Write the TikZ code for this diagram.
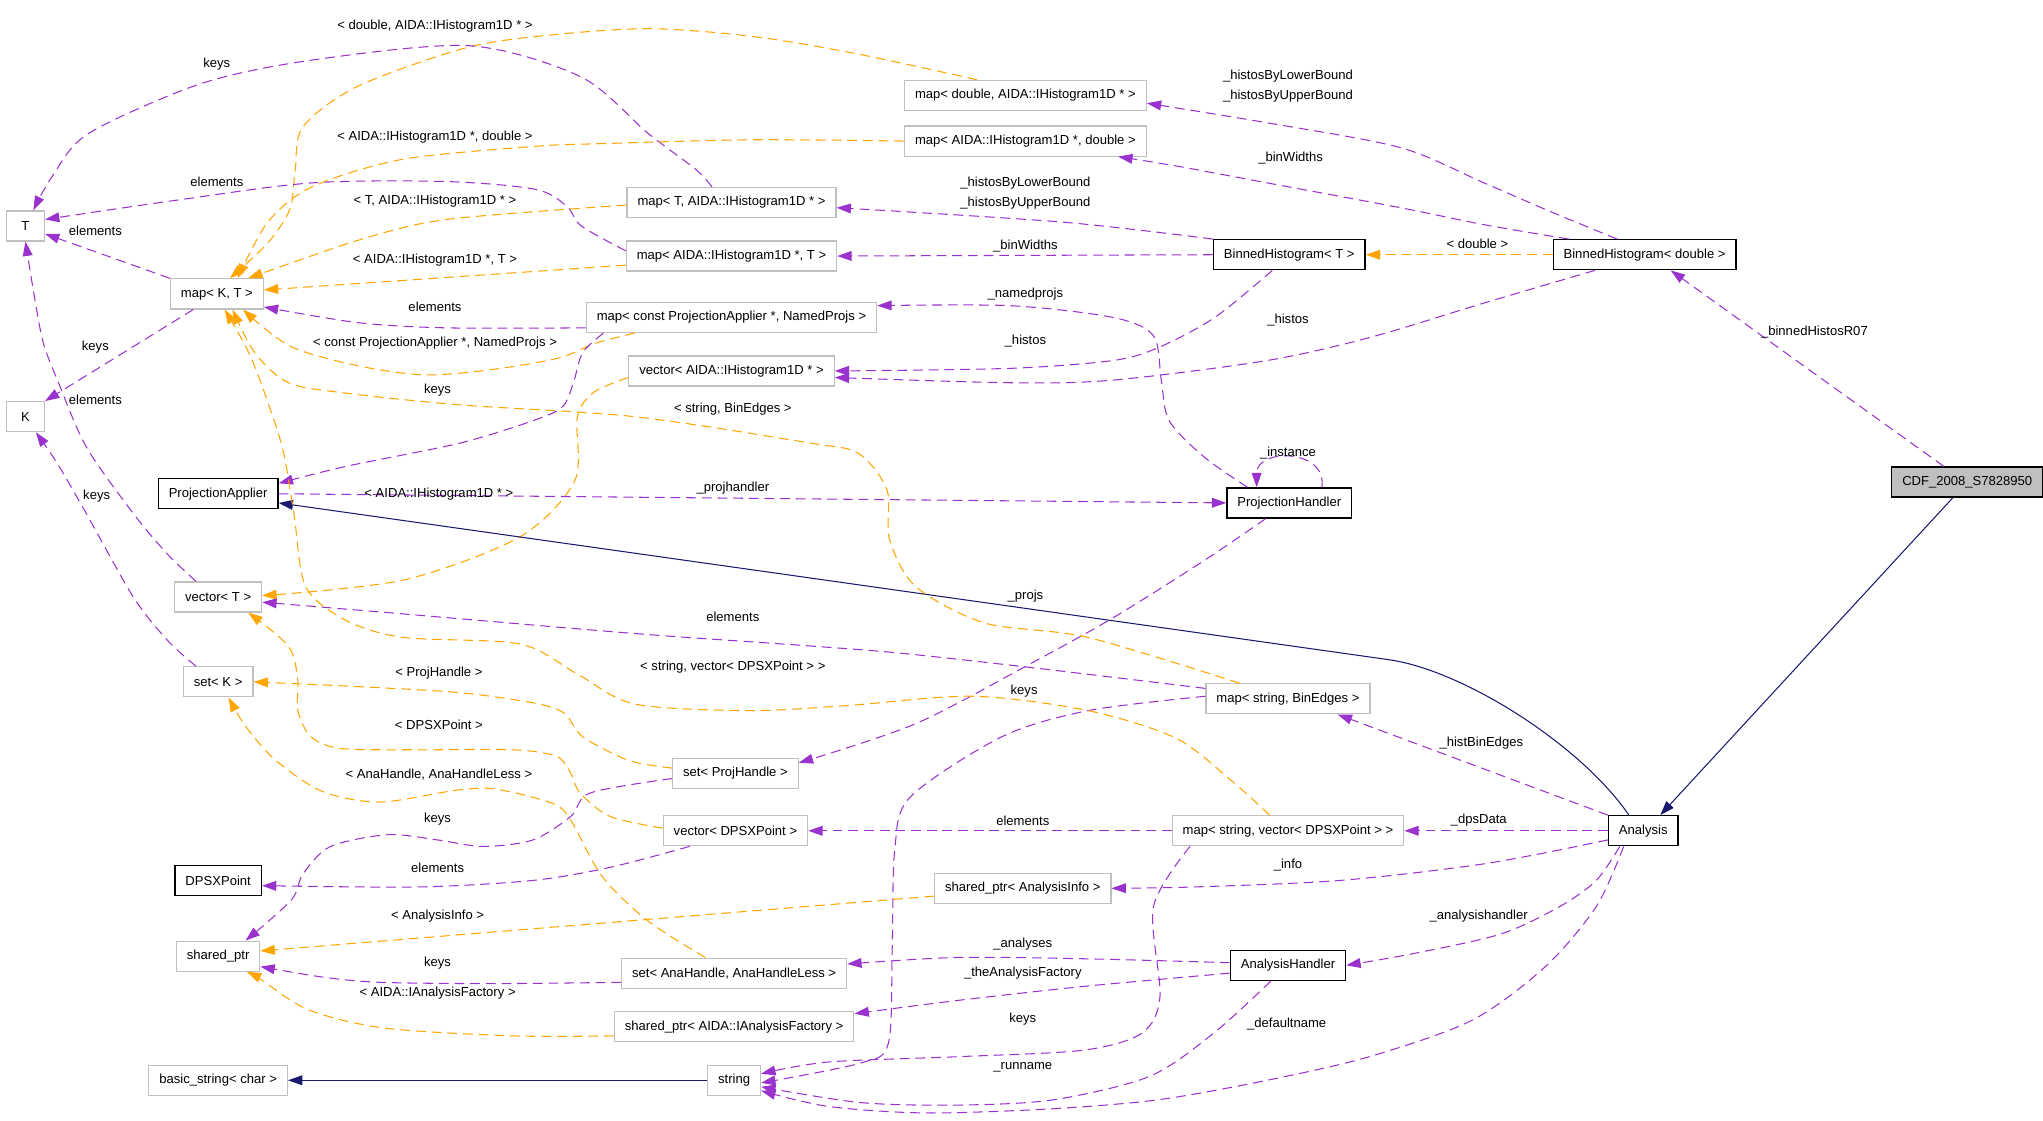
\documentclass[tikz,border=0pt]{standalone}
\usepackage{fontspec}
\setmainfont{Liberation Sans}
\usepackage{xcolor}
\usepackage{tikz}
\usetikzlibrary{arrows.meta}

\definecolor{usecol}{HTML}{9A32CD}
\definecolor{tplcol}{HTML}{FFA500}
\definecolor{inhcol}{HTML}{191970}
\definecolor{boxgray}{HTML}{BFBFBF}

\begin{document}
\begin{tikzpicture}[x=1pt, y=-1pt,
    cls/.style = {draw=boxgray, line width=0.9pt, fill=white, font=\fontsize{10}{12}\selectfont,
      inner xsep=8pt, inner ysep=0pt, minimum height=23pt, minimum width=29pt},
    doc/.style = {cls, draw=black, line width=1pt},
    lbl/.style = {font=\fontsize{10}{15}\selectfont, inner sep=1pt, align=center},
    usage/.style = {draw=usecol, line width=0.8pt, dash pattern=on 7.5pt off 4.5pt,
      -{Triangle[length=11pt, width=7.5pt]}},
    tmpl/.style = {usage, draw=tplcol},
    inher/.style = {draw=inhcol, line width=0.8pt, -{Triangle[length=11pt, width=7.5pt]}}]

      \useasboundingbox (0,0) rectangle (1564,858);

      \node[cls] (t) at (19.5,173) {T};
      \node[cls] (k) at (19.5,319) {K};
      \node[cls] (mkt) at (166,225) {map< K, T >};
      \node[doc] (pa) at (167,378) {ProjectionApplier};
      \node[cls] (vt) at (167,457) {vector< T >};
      \node[cls] (sk) at (167,522) {set< K >};
      \node[doc] (dpsx) at (167,674) {DPSXPoint};
      \node[cls] (sp) at (167,732) {shared\_ptr};
      \node[cls] (bs) at (167,827) {basic\_string< char >};

      \node[cls] (mta) at (560,155) {map< T, AIDA::IHistogram1D * >};
      \node[cls] (mat) at (560,196) {map< AIDA::IHistogram1D *, T >};
      \node[cls] (mcp) at (560,243) {map< const ProjectionApplier *, NamedProjs >};
      \node[cls] (va) at (560,284) {vector< AIDA::IHistogram1D * >};
      \node[cls] (sph) at (563,592) {set< ProjHandle >};
      \node[cls] (vd) at (563,636) {vector< DPSXPoint >};
      \node[cls] (sah) at (562,745) {set< AnaHandle, AnaHandleLess >};
      \node[cls] (spf) at (562,786) {shared\_ptr< AIDA::IAnalysisFactory >};
      \node[cls] (str) at (562,827) {string};

      \node[cls] (md) at (785,73) {map< double, AIDA::IHistogram1D * >};
      \node[cls] (mad) at (785,108) {map< AIDA::IHistogram1D *, double >};
      \node[cls] (spi) at (783,680) {shared\_ptr< AnalysisInfo >};

      \node[doc] (bht) at (987,195) {BinnedHistogram< T >};
      \node[doc] (ph) at (987,385) {ProjectionHandler};
      \node[cls] (msb) at (986,535) {map< string, BinEdges >};
      \node[cls] (msv) at (986,636) {map< string, vector< DPSXPoint > >};
      \node[doc] (ah) at (986,739) {AnalysisHandler};

      \node[doc] (bhd) at (1259,195) {BinnedHistogram< double >};
      \node[doc] (ana) at (1258,636) {Analysis};
      \node[doc, fill=boxgray] (cdf) at (1506,369) {CDF\_2008\_S7828950};

      \draw[tmpl] plot[smooth] coordinates {([xshift=-37pt]md.north) (655,41) (577,28) (500,22) (430,26) (359,36) (274,66) (232,97) (226,130) (222,160) (205,186) ([xshift=10pt]mkt.north)};
      \draw[usage] plot[smooth] coordinates {([xshift=-15pt]mta.north) (533,130) (496,102) (445,59) (359,35) (239,46) (154,64) (68,102) (40,135) ([xshift=6pt]t.north)};
      \draw[tmpl] plot[smooth] coordinates {(mad.west) (577,107) (459,110) (410,112) (308,122) (239,143) (205,170) ([xshift=16pt]mkt.north)};
      \draw[usage] plot[smooth] coordinates {([yshift=4pt]mat.west) (445,173) (434,158) (410,145) (342,139) (239,140) (137,153) ([yshift=5pt]t.east)};
      \draw[tmpl] plot[smooth] coordinates {([yshift=-2pt]mta.west) (342,168) (274,184) ([xshift=24pt]mkt.north)};
      \draw[tmpl] ([yshift=-7pt]mat.west) -- ([yshift=3pt]mkt.east);
      \draw[usage] (mkt.north west) -- ([yshift=-6pt]t.east);
      \draw[usage] ([xshift=-18pt]mkt.south) -- (k.north east);
      \draw[usage] plot[smooth] coordinates {([yshift=-8pt]mcp.west) (342,251) (274,247) ([yshift=-10pt]mkt.east)};
      \draw[tmpl] plot[smooth] coordinates {([xshift=-74pt]mcp.south) (455,263) (428,274) (376,283) (325,287) (274,280) (222,265) ([xshift=20pt]mkt.south)};
      \draw[usage] plot[smooth] coordinates {([xshift=-98pt]mcp.south) (446,270) (439,293) (431,311) (411,321) (353,339) (265,357) ([yshift=8pt]pa.east)};
      \draw[usage] plot[smooth] coordinates {([xshift=-17pt]vt.north) (128,424) (102,393) (66,342) (44,291) (33,262) (26,225) (t.south)};
      \draw[usage] plot[smooth] coordinates {([xshift=-17pt]sk.north) (128,490) (102,457) (66,393) (44,355) ([xshift=8pt]k.south)};
      \draw[tmpl] plot[smooth] coordinates {([yshift=-5pt]va.west) (455,300) (442,319) (440,368) (398,411) (309,444) ([yshift=1pt]vt.east)};

      \draw[usage] (pa.east) -- (ph.west);
      \draw[inher] ([xshift=-11pt]ana.north) .. controls (1210,570) and (1120,513) .. (1063,505) -- ([yshift=-7pt]pa.east);
      \draw[inher] ([xshift=-11pt]cdf.south) -- ([xshift=13pt]ana.north);
      \draw[inher] (str.west) -- (bs.east);

      \draw[usage] plot[smooth] coordinates {([xshift=-13pt]bht.south) (930,243) (887,266) (852,276) (773,282) (va.east)};
      \draw[usage] plot[smooth] coordinates {([xshift=-38pt]bhd.south) (1136,232) (1050,258) (970,276) (852,291) (773,293) ([yshift=-5pt]va.east)};
      \draw[usage] plot[smooth] coordinates {(bht.north west) (813,170) ([yshift=-4pt]mta.east)};
      \draw[usage] (bht.west) -- (mat.east);
      \draw[usage] plot[smooth] coordinates {([xshift=-21pt]bhd.north) (1187,162) (1136,140) (1072,113) (970,94) ([yshift=-6pt]md.east)};
      \draw[usage] plot[smooth] coordinates {([xshift=-58pt]bhd.north) (1136,172) (1072,159) (970,140) (900,127) ([xshift=71pt]mad.south)};
      \draw[tmpl] (bhd.west) -- (bht.east);
      \draw[usage] ([xshift=-18pt]cdf.north) -- ([xshift=20pt]bhd.south);

      \draw[usage] plot[smooth] coordinates {([xshift=-18pt]ph.south) (922,429) (852,473) (789,508) (701,554) ([yshift=8pt]sph.east)};
      \draw[usage] plot[smooth] coordinates {([xshift=-32pt]ph.north) (922,350) (895,322) (889,291) (883,257) (852,243) (773,234) ([yshift=9pt]mcp.east)};
      \draw[usage] ([xshift=25pt]ph.north) .. controls (1016,343) and (962,343) .. ([xshift=-25pt]ph.north);

      \draw[usage] plot[smooth] coordinates {([yshift=8pt]msb.west) (789,511) (689,500) (613,494) (486,485) (309,470) ([yshift=-4pt]vt.east)};
      \draw[tmpl] plot[smooth] coordinates {([xshift=-37pt]msb.north) (833,488) (754,477) (701,449) (681,413) (679,375) (657,347) (619,339) (486,319) (353,310) (265,301) (221,293) (195,270) ([xshift=12pt]mkt.south)};
      \draw[usage] (ana.north west) -- ([xshift=38pt]msb.south);
      \draw[usage] plot[smooth] coordinates {([yshift=2pt]msb.west) (833,544) (767,564) (697,610) (685,650) (683,727) (680,799) (658,814) ([yshift=-2pt]str.east)};

      \draw[tmpl] plot[smooth] coordinates {([xshift=-14pt]msv.north) (942,597) (900,565) (833,544) (745,533) (650,540) (574,544) (486,539) (442,516) (398,493) (309,488) (265,475) (234,449) (225,393) (216,342) (199,291) (188,265) ([xshift=6pt]mkt.south)};
      \draw[usage] (msv.west) -- (vd.east);
      \draw[usage] (ana.west) -- (msv.east);
      \draw[usage] plot[smooth] coordinates {([xshift=-75pt]msv.south) (883,694) (888,763) (874,791) (829,804) (732,809) (634,813) ([yshift=5pt]str.east)};

      \draw[tmpl] plot[smooth] coordinates {([yshift=4pt]sph.west) (481,582) (446,564) (432,546) (408,538) (349,530) (261,525) (sk.east)};
      \draw[tmpl] plot[smooth] coordinates {([yshift=2pt]vd.west) (467,625) (444,607) (437,592) (426,579) (393,574) (320,574) (261,573) (238,564) (228,544) (228,521) (221,495) ([xshift=23pt]vt.south)};
      \draw[tmpl] plot[smooth] coordinates {([xshift=-22pt]sah.north) (496,705) (461,671) (437,628) (423,615) (379,604) (349,605) (291,614) (247,606) (211,582) (188,556) ([xshift=8pt]sk.south)};
      \draw[usage] plot[smooth] coordinates {([yshift=-4pt]sph.west) (452,607) (437,625) (408,643) (370,648) (335,643) (297,639) (253,648) (232,669) (223,689) ([xshift=21pt]sp.north)};
      \draw[usage] plot[smooth] coordinates {([xshift=-35pt]vd.south) (467,664) (408,674) (320,679) ([yshift=-4pt]dpsx.east)};
      \draw[tmpl] ([yshift=-6pt]spi.west) -- ([yshift=4pt]sp.east);
      \draw[usage] plot[smooth] coordinates {([yshift=-7pt]sah.west) (379,753) (291,752) (247,748) ([yshift=-8pt]sp.east)};
      \draw[tmpl] plot[smooth] coordinates {([yshift=-7pt]spf.west) (393,793) (294,787) (236,773) (200,750) ([xshift=22pt]sp.south)};

      \draw[usage] plot[smooth] coordinates {([yshift=-7pt]ana.west) (1138,661) (1026,674) (914,679) (spi.east)};
      \draw[usage] plot[smooth] coordinates {([xshift=-18pt]ana.south) (1222,674) (1194,694) (1149,715) (1082,730) (ah.east)};
      \draw[usage] plot[smooth] coordinates {([yshift=2pt]ah.west) (831,734) (732,733) ([yshift=7pt]sah.east)};
      \draw[usage] plot[smooth] coordinates {([yshift=-6pt]ah.west) (831,755) (732,766) ([yshift=10pt]spf.east)};
      \draw[usage] plot[smooth] coordinates {([xshift=-13pt]ah.south) (929,791) (880,824) (806,842) (732,846) (658,844) ([yshift=-5pt]str.east)};
      \draw[usage] plot[smooth] coordinates {([xshift=-15pt]ana.south) (1222,694) (1183,740) (1127,781) (1048,809) (970,827) (886,842) (802,849) (708,852) (634,847) ([yshift=-8pt]str.east)};

      \node[lbl] (l1) at (333,20) {< double, AIDA::IHistogram1D * >};
      \node[lbl] (l2) at (166,49) {keys};
      \node[lbl] (l3) at (333,105) {< AIDA::IHistogram1D *, double >};
      \node[lbl] (l4) at (166,139) {elements};
      \node[lbl] (l5) at (333,154) {< T, AIDA::IHistogram1D * >};
      \node[lbl] (l6) at (73,177) {elements};
      \node[lbl] (l7) at (333,199) {< AIDA::IHistogram1D *, T >};
      \node[lbl] (l8) at (333,235) {elements};
      \node[lbl] (l9) at (333,263) {< const ProjectionApplier *, NamedProjs >};
      \node[lbl] (l10) at (73,266) {keys};
      \node[lbl] (l11) at (335,299) {keys};
      \node[lbl] (l12) at (73,306) {elements};
      \node[lbl] (l13) at (561,313) {< string, BinEdges >};
      \node[lbl] (l14) at (336,378) {< AIDA::IHistogram1D * >};
      \node[lbl] (l15) at (561,374) {\_projhandler};
      \node[lbl] (l16) at (74,380) {keys};
      \node[lbl] (l17) at (561,472) {elements};
      \node[lbl] (l18) at (561,511) {< string, vector< DPSXPoint > >};
      \node[lbl] (l19) at (336,515) {< ProjHandle >};
      \node[lbl] (l20) at (336,555) {< DPSXPoint >};
      \node[lbl] (l21) at (336,593) {< AnaHandle, AnaHandleLess >};
      \node[lbl] (l22) at (335,627) {keys};
      \node[lbl] (l23) at (335,664) {elements};
      \node[lbl] (l24) at (335,701) {< AnalysisInfo >};
      \node[lbl] (l25) at (335,737) {keys};
      \node[lbl] (l26) at (335,760) {< AIDA::IAnalysisFactory >};

      \node[lbl] (l27) at (785,148) {\_histosByLowerBound\\\_histosByUpperBound};
      \node[lbl] (l28) at (785,188) {\_binWidths};
      \node[lbl] (l29) at (785,225) {\_namedprojs};
      \node[lbl] (l30) at (785,261) {\_histos};
      \node[lbl] (l31) at (986,66) {\_histosByLowerBound\\\_histosByUpperBound};
      \node[lbl] (l32) at (988,121) {\_binWidths};
      \node[lbl] (l33) at (986,245) {\_histos};
      \node[lbl] (l34) at (1131,187) {< double >};
      \node[lbl] (l35) at (1389,254) {\_binnedHistosR07};
      \node[lbl] (l36) at (986,347) {\_instance};
      \node[lbl] (l37) at (785,456) {\_projs};
      \node[lbl] (l38) at (784,529) {keys};
      \node[lbl] (l39) at (1134,569) {\_histBinEdges};
      \node[lbl] (l40) at (783,628) {elements};
      \node[lbl] (l41) at (1132,628) {\_dpsData};
      \node[lbl] (l42) at (986,662) {\_info};
      \node[lbl] (l43) at (1132,701) {\_analysishandler};
      \node[lbl] (l44) at (783,723) {\_analyses};
      \node[lbl] (l45) at (783,745) {\_theAnalysisFactory};
      \node[lbl] (l46) at (783,780) {keys};
      \node[lbl] (l47) at (985,784) {\_defaultname};
      \node[lbl] (l48) at (783,817) {\_runname};
    \end{tikzpicture}
\end{document}
